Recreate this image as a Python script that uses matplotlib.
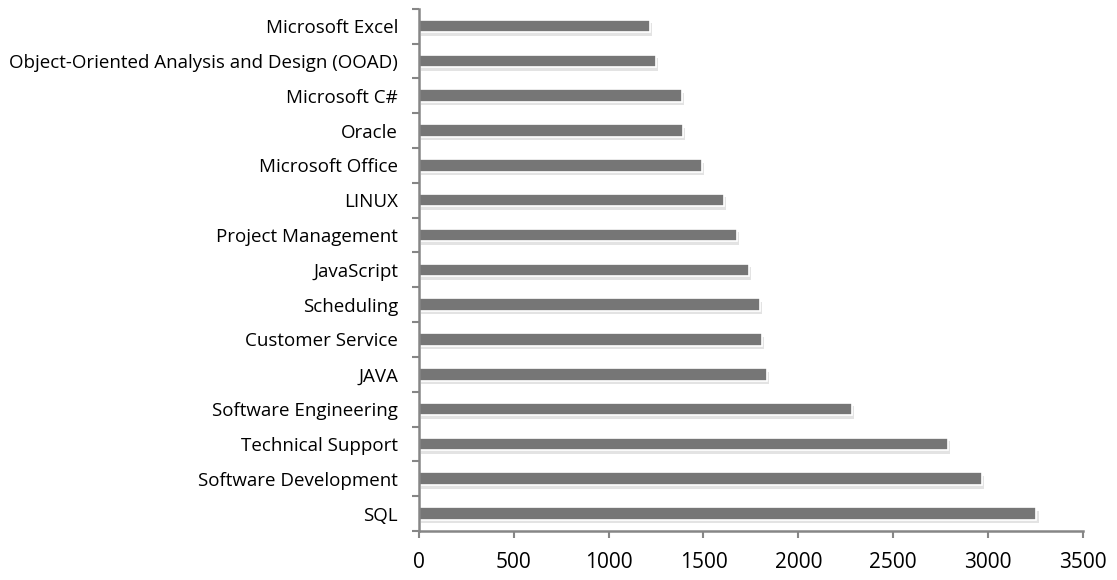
import matplotlib
matplotlib.use("Agg")
import matplotlib.pyplot as plt
import matplotlib.patheffects as pe

# skills, bottom to top
skills = ["SQL", "Software Development", "Technical Support", "Software Engineering",
          "JAVA", "Customer Service", "Scheduling", "JavaScript", "Project Management",
          "LINUX", "Microsoft Office", "Oracle", "Microsoft C#",
          "Object-Oriented Analysis and Design (OOAD)", "Microsoft Excel"]
counts = [3255, 2968, 2790, 2285, 1833, 1810, 1798, 1741, 1675,
          1608, 1490, 1390, 1385, 1251, 1218]
x_ticks = [0, 500, 1000, 1500, 2000, 2500, 3000, 3500]

plt.rcParams['font.family'] = ['Open Sans', 'DejaVu Sans']

fig = plt.figure(figsize=(11.17, 5.8), dpi=100)
ax = fig.add_axes([0.375, 0.0845, 0.5945, 0.9005])

axis_grey = "#868686"
ypos = list(range(len(skills)))
bars = ax.barh(ypos, counts, height=0.36, color="#767676",
               edgecolor="white", linewidth=1.2)
for b in bars:
    b.set_path_effects([pe.SimplePatchShadow(offset=(1.5, -2.5), shadow_rgbFace="#b0b0b0", alpha=0.35),
                        pe.Normal()])

ax.set_xlim(0, 3500)
ax.set_ylim(-0.5, len(skills) - 0.5)
ax.set_xticks(x_ticks)
ax.set_xticklabels([str(t) for t in x_ticks], fontsize=15)

# category labels at centres, tick marks at boundaries
ax.set_yticks(ypos)
ax.set_yticklabels(skills, fontsize=13.5)
ax.tick_params(axis="y", which="major", length=0, pad=15)
ax.set_yticks([i - 0.5 for i in range(len(skills) + 1)], minor=True)
ax.tick_params(axis="y", which="minor", length=5, width=1.5, color=axis_grey)
ax.tick_params(axis="x", length=5, width=1.5, color=axis_grey, pad=10)

for side in ["top", "right"]:
    ax.spines[side].set_visible(False)
for side in ["left", "bottom"]:
    ax.spines[side].set_color(axis_grey)
    ax.spines[side].set_linewidth(1.8)

fig.savefig("out.png", dpi=100)
